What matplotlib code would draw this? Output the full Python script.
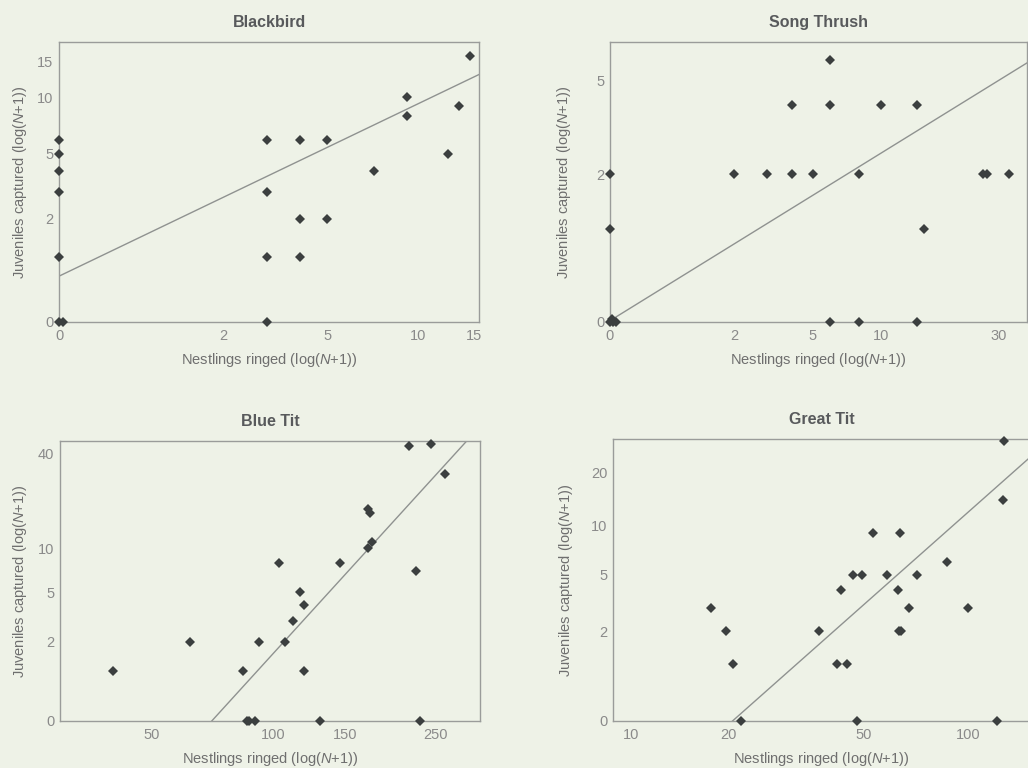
import numpy as np
import matplotlib
matplotlib.use("Agg")
import matplotlib.pyplot as plt

plt.rcParams['font.family'] = ['Liberation Sans', 'DejaVu Sans']
plt.rcParams['mathtext.fontset'] = 'custom'
plt.rcParams['mathtext.it'] = 'Liberation Sans:italic'
plt.rcParams['mathtext.rm'] = 'Liberation Sans'

# ---------------- data (N values; axes use log(N+1)) ----------------
blackbird_x = [0, 0.03, 0, 0, 0, 0, 0, 3, 3, 3, 3, 4, 4, 4, 5, 5, 7.2, 9.2, 9.2, 12.4, 13.4, 14.5]
blackbird_y = [0, 0, 1, 3, 4, 5, 6, 0, 1, 3, 6, 1, 2, 6, 2, 6, 4, 8, 10, 5, 9, 16]
blackbird_line_x = [0, 15.5]
blackbird_line_y = [0.63, 13.0]

thrush_x = [0, 0.03, 0.05, 0.02, 0, 0, 2, 3, 4, 5, 8, 26, 27, 33, 4, 6, 10, 14, 6, 15, 6, 8, 14]
thrush_y = [0, 0, 0, 0.02, 1, 2, 2, 2, 2, 2, 2, 2, 2, 2, 4, 4, 4, 4, 6, 1, 0, 0, 0]
thrush_line_x = [0, 38.8]
thrush_line_y = [0.01, 5.85]

bluetit_x = [40, 62, 84, 86, 87, 90, 92, 103, 107, 112, 116, 119, 119, 130, 146,
             171, 175, 171, 173, 216, 224, 230, 244, 264]
bluetit_y = [1, 2, 1, 0, 0, 0, 2, 8, 2, 3, 5, 4, 1, 0, 8,
             10, 11, 18, 17, 45, 7, 0, 46, 30]
bluetit_line_x = [70.4, 297.8]
bluetit_line_y = [0, 47.6]

greattit_x = [17.7, 19.6, 20.6, 21.7, 37, 41.8, 44.7, 42.8, 46.5, 49.5, 47.9, 53.2, 58.3,
              62.9, 63.3, 64.3, 63.7, 67.8, 71.5, 87, 100.4, 121, 126.6, 127]
greattit_y = [3, 2, 1, 0, 2, 1, 1, 4, 5, 5, 0, 9, 5,
              4, 2, 2, 9, 3, 5, 6, 3, 0, 14, 30]
greattit_line_x = [20.5, 151]
greattit_line_y = [0, 24.4]

titles = ["Blackbird", "Song Thrush", "Blue Tit", "Great Tit"]
xticks = [[0, 2, 5, 10, 15], [0, 2, 5, 10, 30], [50, 100, 150, 250], [10, 20, 50, 100]]
yticks = [[0, 2, 5, 10, 15], [0, 2, 5], [0, 2, 5, 10, 40], [0, 2, 5, 10, 20]]
xlims = [(0, 15.5), (0, 38.8), (29.4, 322), (8.8, 151)]
ylims = [(0, 18.8), (0, 7.0), (0, 48), (0, 30.8)]

# ---------------- style ----------------
BG = '#eef2e7'
MARK = '#3b3f3f'
LINE = '#8f9290'
SPINE = '#9a9c9a'
TICKC = '#8a8a8a'
LABC = '#6f6f6f'
TITC = '#585a5c'

W, H = 1028, 768
fig = plt.figure(figsize=(W / 100, H / 100), dpi=100, facecolor=BG)

# axes boxes in pixels: left, top, right, bottom
boxes = [(59, 42, 479, 322), (610, 42, 1027, 322), (60, 441, 480, 721), (613, 439, 1030, 721)]
# horizontal distance (px) of the y-label centre from the left spine
ylabel_offsets = [39, 46, 40, 47]


def fwd(v):
    v = np.asarray(v, dtype=float)
    return np.log10(np.maximum(v + 1.0, 1e-6))


def inv(v):
    return 10.0 ** np.asarray(v, dtype=float) - 1.0


series = [
    (blackbird_x, blackbird_y, blackbird_line_x, blackbird_line_y),
    (thrush_x, thrush_y, thrush_line_x, thrush_line_y),
    (bluetit_x, bluetit_y, bluetit_line_x, bluetit_line_y),
    (greattit_x, greattit_y, greattit_line_x, greattit_line_y),
]

for i, (l, t, r, b) in enumerate(boxes):
    ax = fig.add_axes([l / W, 1 - b / H, (r - l) / W, (b - t) / H])
    ax.set_facecolor(BG)
    ax.set_xscale('function', functions=(fwd, inv))
    ax.set_yscale('function', functions=(fwd, inv))
    xs, ys, lx, ly = series[i]
    ax.plot(lx, ly, color=LINE, lw=1.0, zorder=2)
    ax.plot(xs, ys, 'D', color=MARK, markersize=5, clip_on=False, zorder=3, markeredgewidth=0)
    ax.set_xlim(*xlims[i])
    ax.set_ylim(*ylims[i])
    ax.set_xticks(xticks[i])
    ax.set_xticklabels([str(v) for v in xticks[i]])
    ax.set_yticks(yticks[i])
    ax.set_yticklabels([str(v) for v in yticks[i]])
    ax.minorticks_off()
    ax.tick_params(axis='x', length=0, pad=5, labelsize=10.5, colors=TICKC)
    ax.tick_params(axis='y', length=0, pad=4, labelsize=10.5, colors=TICKC)
    for s in ax.spines.values():
        s.set_color(SPINE)
        s.set_linewidth(1.0)
    ax.set_title(titles[i], fontsize=11.5, fontweight='bold', color=TITC, pad=11)
    ax.set_xlabel(r'Nestlings ringed (log($\it{N}$+1))', fontsize=10.5, color=LABC, labelpad=6)
    ax.set_ylabel(r'Juveniles captured (log($\it{N}$+1))', fontsize=10.5, color=LABC,
                  va='center')
    ax.yaxis.set_label_coords(-ylabel_offsets[i] / (r - l), 0.5)

fig.savefig('out.png', dpi=100, facecolor=BG)
